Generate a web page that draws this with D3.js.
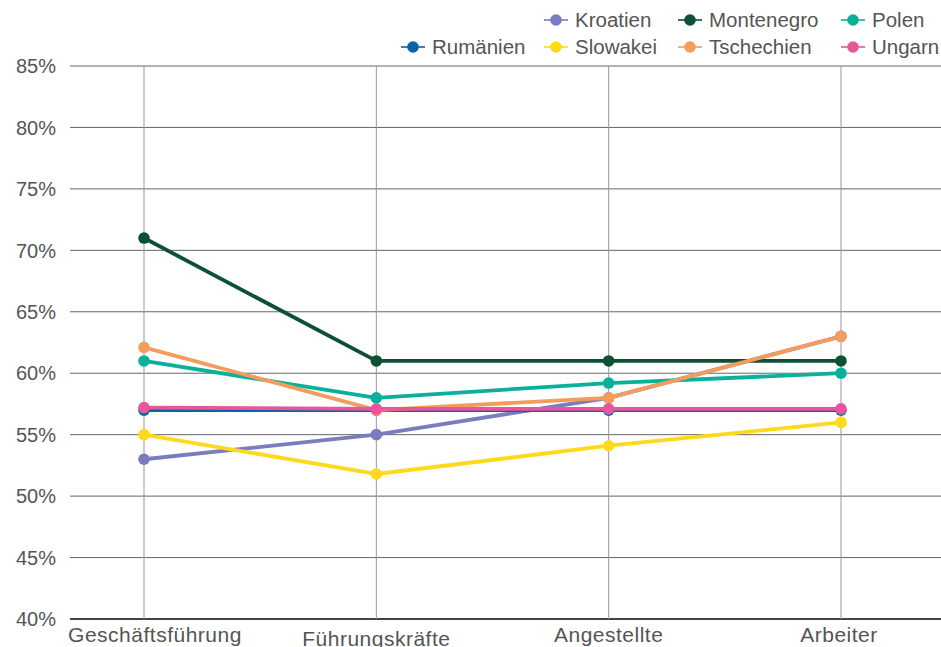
<!DOCTYPE html>
<html><head><meta charset="utf-8">
<script src="https://cdn.jsdelivr.net/npm/d3@7"></script>
<style>
body{margin:0;background:#fff;}
text{font-family:"Liberation Sans",Arial,Helvetica,sans-serif;fill:#555;}
</style></head>
<body><svg id="c" width="941" height="647"></svg>
<script>
const categories = ["Geschäftsführung","Führungskräfte","Angestellte","Arbeiter"];
const seriesNames = ["Kroatien","Montenegro","Polen","Rumänien","Slowakei","Tschechien","Ungarn"];
const kroatien   = [53, 55, 58, 63];
const montenegro = [71, 61, 61, 61];
const polen      = [61, 58, 59.2, 60];
const rumaenien  = [57, 57, 57, 57];
const slowakei   = [55, 51.8, 54.1, 56];
const tschechien = [62.1, 57, 58, 63];
const ungarn     = [57.2, 57.1, 57.1, 57.1];
const colors = ["#7b7bbf","#0d5133","#0bb09b","#0465a8","#ffd91a","#f39c5c","#e8559a"];
const yTicks = [40,45,50,55,60,65,70,75,80,85];

const values = [kroatien, montenegro, polen, rumaenien, slowakei, tschechien, ungarn];
const series = seriesNames.map((n,i)=>({name:n, color:colors[i], values:values[i]}));

const svg = d3.select("#c");
const pLeft = 70, pRight = 941, pTop = 66, pBottom = 619;
const x = d3.scalePoint().domain(categories).range([144, 841]);
const y = d3.scaleLinear().domain([40,85]).range([pBottom, pTop]);

// horizontal grid
svg.append("g").selectAll("line").data(yTicks).join("line")
  .attr("x1", pLeft).attr("x2", pRight)
  .attr("y1", d=>y(d)).attr("y2", d=>y(d))
  .attr("stroke", d=> d===40 ? "#444" : "#666")
  .attr("stroke-width", d=> d===40 ? 2 : 1);
// vertical grid
svg.append("g").selectAll("line").data(categories).join("line")
  .attr("x1", d=>x(d)).attr("x2", d=>x(d))
  .attr("y1", pTop).attr("y2", pBottom)
  .attr("stroke", "#999").attr("stroke-width", 1);

// y tick labels
svg.append("g").selectAll("text").data(yTicks).join("text")
  .attr("x", 56).attr("y", d=>y(d)).attr("dy","0.36em")
  .attr("text-anchor","end").style("font-size","20px")
  .text(d=>d+"%");

// x labels
svg.append("g").selectAll("text").data(categories).join("text")
  .attr("x", (d,i)=>x(d) + (i===0?11:(i===3?-2:0)))
  .attr("y", (d,i)=> i===1 ? 646 : 642)
  .attr("text-anchor","middle").style("font-size","21px").style("letter-spacing","0.5px")
  .text(d=>d);

// lines
const line = d3.line().x((d,i)=>x(categories[i])).y(d=>y(d));
const g = svg.append("g");
series.forEach(s=>{
  g.append("path").datum(s.values).attr("d", line)
    .attr("fill","none").attr("stroke", s.color).attr("stroke-width",3.8)
    .attr("stroke-linejoin","round");
  g.selectAll(null).data(s.values).join("circle")
    .attr("cx",(d,i)=>x(categories[i])).attr("cy", d=>y(d))
    .attr("r",5.8).attr("fill", s.color);
});

// legend
const legPos = [
  [556,20],[690,20],[853,20],
  [413,47],[556,47],[690,47],[853,47]
];
const lg = svg.append("g");
series.forEach((s,i)=>{
  const [mx,my] = legPos[i];
  lg.append("line").attr("x1",mx-12).attr("x2",mx+12).attr("y1",my).attr("y2",my)
    .attr("stroke", s.color).attr("stroke-width",2).attr("stroke-opacity",0.8);
  lg.append("circle").attr("cx",mx).attr("cy",my).attr("r",5.8).attr("fill",s.color);
  lg.append("text").attr("x",mx+19).attr("y",my).attr("dy","0.36em")
    .style("font-size","20.5px").text(s.name);
});
</script></body></html>
